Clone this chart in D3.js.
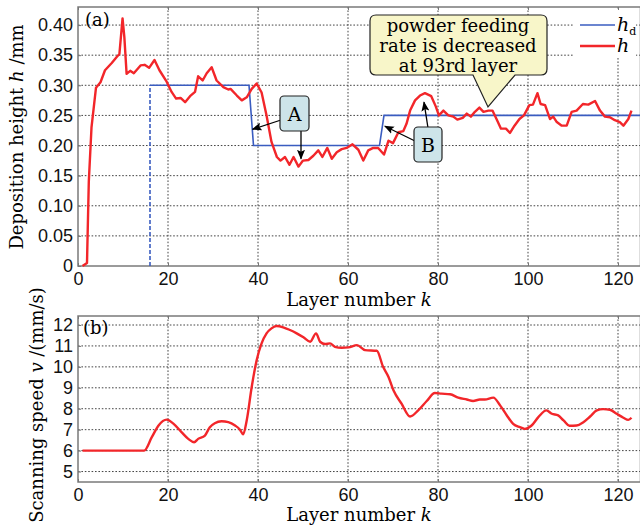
<!DOCTYPE html>
<html>
<head>
<meta charset="utf-8">
<script src="https://cdn.jsdelivr.net/npm/d3@7"></script>
<style>
  body { margin: 0; background: #fff; }
  svg { display: block; font-family: "DejaVu Serif", "Liberation Serif", serif; }
  .grid line { stroke: #444; stroke-width: 1; stroke-dasharray: 1.6,1.8; }
  .axis text { font-size: 18px; fill: #111; }
  .axis line { stroke: #777; }
</style>
</head>
<body>
<script>
(function (){

    //layer numbers and deposition height h (mm)
    var hK = [1, 2, 2.4, 3, 4, 5, 6, 7.5, 8.6, 9.2, 9.9, 10.3, 10.8, 11.6, 12.4, 13.9, 14.8, 15.8, 17, 18.1,
        19.7, 20.8, 21.8, 22.8, 23.8, 24.9, 26, 26.7, 27.7, 28.6, 29.7, 30.8, 32.3, 33.4, 33.9, 35.3, 36.4, 37.5, 38.6, 39.7,
        40.8, 41.9, 43, 44.2, 45, 46, 47, 47.9, 49, 50, 51.2, 52.3, 53.4, 54.3, 55.4, 56.4, 57.5, 58.6, 59.7, 61,
        62.3, 63.4, 64.5, 65.6, 66.7, 68, 69, 70, 71.2, 72.3, 73, 73.8, 74.9, 76, 77.1, 78.5, 79.5, 80.2, 81.2, 82.3,
        83.4, 84.3, 85.5, 86.4, 87.3, 88.2, 89.2, 90.1, 91.2, 92.1, 93, 94, 95.1, 96, 97, 98.1, 99.1, 100.3, 101.1, 102.1,
        102.8, 103.8, 104.9, 105.6, 106.4, 107.5, 108.6, 109.7, 110.8, 112.2, 113.4, 114.9, 116, 117.1, 118.2, 119.3, 120.4, 121.2, 122.3, 123];
    var hVal = [0, 0.005, 0.14, 0.23, 0.296, 0.305, 0.325, 0.337, 0.347, 0.352, 0.411, 0.38, 0.319, 0.324, 0.32, 0.333, 0.334, 0.329, 0.342, 0.325,
        0.306, 0.289, 0.278, 0.279, 0.272, 0.282, 0.289, 0.315, 0.308, 0.32, 0.33, 0.308, 0.297, 0.293, 0.294, 0.283, 0.275, 0.28, 0.294, 0.303,
        0.288, 0.25, 0.206, 0.181, 0.175, 0.181, 0.168, 0.181, 0.165, 0.175, 0.176, 0.183, 0.192, 0.181, 0.196, 0.178, 0.189, 0.194, 0.196, 0.202,
        0.193, 0.175, 0.192, 0.196, 0.196, 0.185, 0.208, 0.204, 0.222, 0.224, 0.236, 0.258, 0.275, 0.283, 0.287, 0.282, 0.265, 0.25, 0.258, 0.25,
        0.248, 0.243, 0.246, 0.253, 0.248, 0.256, 0.263, 0.256, 0.258, 0.258, 0.244, 0.228, 0.228, 0.221, 0.233, 0.244, 0.25, 0.267, 0.268, 0.287,
        0.269, 0.267, 0.244, 0.248, 0.239, 0.233, 0.233, 0.256, 0.258, 0.269, 0.268, 0.274, 0.258, 0.248, 0.247, 0.242, 0.239, 0.233, 0.244, 0.258];

    //desired height h_d (mm)
    var hdK = [16, 38, 39, 67, 68, 126];
    var hdVal = [0.30, 0.30, 0.20, 0.20, 0.25, 0.25];
    var hdStartK = [16, 16];
    var hdStartVal = [0, 0.30];

    //scanning speed v (mm/s)
    var vK = [1, 14.7, 16.4, 17.9, 19.7, 21.2, 23, 24.5, 25.8, 26.7, 28.2, 29.3, 30.4, 31.9, 33.4, 34.9, 36, 36.7, 37.5, 38.6,
        39.7, 40.8, 41.9, 43, 44.1, 45.6, 47.1, 48.6, 50.1, 51.6, 52.9, 53.8, 54.9, 56, 57.1, 58.6, 60.1, 62, 63.8, 66.4,
        67.8, 69, 70.1, 71.9, 73.8, 75.6, 77.5, 79.3, 80.8, 82.7, 84.5, 86.4, 87.8, 89.3, 90.4, 92.3, 93.8, 95.3, 96.7, 98.2,
        99.3, 100.8, 102.3, 104.1, 105.3, 106.7, 107.9, 109.2, 110.8, 112.3, 113.8, 115.3, 116.7, 118.2, 119.7, 121.2, 122.3, 123];
    var vVal = [6, 6, 6.64, 7.2, 7.48, 7.29, 6.88, 6.56, 6.4, 6.56, 6.72, 7.12, 7.31, 7.4, 7.36, 7.2, 7, 6.78, 7.45, 9.04,
        10.32, 11.12, 11.6, 11.84, 11.95, 11.89, 11.76, 11.6, 11.41, 11.2, 11.6, 11.2, 11.09, 11.12, 10.96, 10.91, 10.93, 11.04, 10.8, 10.77,
        10, 9.52, 8.88, 8.24, 7.63, 7.92, 8.37, 8.75, 8.72, 8.69, 8.53, 8.44, 8.37, 8.44, 8.44, 8.53, 8.16, 7.68, 7.28, 7.12,
        7.04, 7.2, 7.6, 7.92, 7.76, 7.68, 7.44, 7.19, 7.2, 7.36, 7.63, 7.92, 7.98, 7.95, 7.76, 7.57, 7.47, 7.57];

    //tick labels
    var kTicks = [0, 20, 40, 60, 80, 100, 120];
    var hTicks = [0, 0.05, 0.10, 0.15, 0.20, 0.25, 0.30, 0.35, 0.40];
    var vTicks = [5, 6, 7, 8, 9, 10, 11, 12];

    var width = 640, height = 531;
    var redColor = "#f2262a", blueColor = "#3a5cc0";

    var svg = d3.select("body").append("svg")
        .attr("width", width)
        .attr("height", height);

    var defs = svg.append("defs");
    defs.append("marker")
        .attr("id", "arrow")
        .attr("viewBox", "0 0 10 10")
        .attr("refX", 9).attr("refY", 5)
        .attr("markerWidth", 10).attr("markerHeight", 10)
        .attr("markerUnits", "userSpaceOnUse")
        .attr("orient", "auto")
        .append("path")
        .attr("d", "M0,1 L10,5 L0,9 L2,5 Z")
        .attr("fill", "#000");

    //shared x scale
    var x = d3.scaleLinear().domain([0, 125]).range([78, 640.5]);

    //panel (a)
    var yA = d3.scaleLinear().domain([0, 0.43]).range([266, 7]);
    //panel (b)
    var yB = d3.scaleLinear().domain([4.5, 12.43]).range([482, 316]);

    function drawPanel(y, yTickVals, fmt, top, bottom){
        var g = svg.append("g");

        //grid
        var grid = g.append("g").attr("class", "grid");
        grid.selectAll(".gx")
            .data(kTicks.filter(function(d){ return d > 0; }))
            .enter().append("line")
            .attr("x1", function(d){ return x(d); })
            .attr("x2", function(d){ return x(d); })
            .attr("y1", top).attr("y2", bottom);
        grid.selectAll(".gy")
            .data(yTickVals.filter(function(d){ return y(d) < bottom - 2 && y(d) > top + 2; }))
            .enter().append("line")
            .attr("x1", x(0)).attr("x2", width)
            .attr("y1", function(d){ return y(d); })
            .attr("y2", function(d){ return y(d); });

        //frame
        g.append("rect")
            .attr("x", x(0)).attr("y", top)
            .attr("width", x.range()[1] - x(0))
            .attr("height", bottom - top)
            .attr("fill", "none")
            .attr("stroke", "#7a7a7a")
            .attr("stroke-width", 1.5);

        //axes with inward ticks
        g.append("g")
            .attr("class", "axis")
            .attr("transform", "translate(0," + bottom + ")")
            .call(d3.axisBottom(x).tickValues(kTicks).tickSizeInner(-3).tickSizeOuter(0).tickPadding(6))
            .call(function(s){ s.select(".domain").remove(); });
        g.append("g")
            .attr("class", "axis")
            .attr("transform", "translate(" + x(0) + ",0)")
            .call(d3.axisLeft(y).tickValues(yTickVals).tickFormat(fmt).tickSizeInner(-3).tickSizeOuter(0).tickPadding(5))
            .call(function(s){ s.select(".domain").remove(); });
        g.append("g")
            .attr("class", "axis")
            .attr("transform", "translate(0," + top + ")")
            .call(d3.axisTop(x).tickValues(kTicks).tickSizeInner(-3).tickSizeOuter(0).tickFormat(""))
            .call(function(s){ s.select(".domain").remove(); });
        return g;
    }

    var gA = drawPanel(yA, hTicks, function(d){ return d === 0 ? "0" : d3.format(".2f")(d); }, 7, 266);
    var gB = drawPanel(yB, vTicks, d3.format("d"), 316, 482);

    //lines panel (a)
    var lineA = d3.line()
        .x(function(d){ return x(d[0]); })
        .y(function(d){ return yA(d[1]); });

    gA.append("path")
        .datum(d3.zip(hdStartK, hdStartVal))
        .attr("d", lineA)
        .attr("fill", "none")
        .attr("stroke", blueColor)
        .attr("stroke-width", 1.6)
        .attr("stroke-dasharray", "4,2");
    gA.append("path")
        .datum(d3.zip(hdK, hdVal))
        .attr("d", lineA)
        .attr("fill", "none")
        .attr("stroke", blueColor)
        .attr("stroke-width", 1.6);
    gA.append("path")
        .datum(d3.zip(hK, hVal))
        .attr("d", lineA)
        .attr("fill", "none")
        .attr("stroke", redColor)
        .attr("stroke-width", 2.4)
        .attr("stroke-linejoin", "round");

    //lines panel (b)
    var lineB = d3.line()
        .x(function(d){ return x(d[0]); })
        .y(function(d){ return yB(d[1]); })
        .curve(d3.curveMonotoneX);
    gB.append("path")
        .datum(d3.zip(vK, vVal))
        .attr("d", lineB)
        .attr("fill", "none")
        .attr("stroke", redColor)
        .attr("stroke-width", 2.4);

    //panel tags
    svg.append("text").attr("x", 85).attr("y", 26).style("font-size", "18px").text("(a)");
    svg.append("text").attr("x", 83).attr("y", 334).style("font-size", "18px").text("(b)");

    //axis titles
    function xTitle(yPos){
        var t = svg.append("text")
            .attr("x", 359).attr("y", yPos)
            .attr("text-anchor", "middle")
            .style("font-size", "18px");
        t.append("tspan").text("Layer number ");
        t.append("tspan").style("font-style", "italic").text("k");
    }
    xTitle(306);
    xTitle(521);

    var ta = svg.append("text")
        .attr("transform", "translate(23,137) rotate(-90)")
        .attr("text-anchor", "middle")
        .style("font-size", "18px");
    ta.append("tspan").text("Deposition height ");
    ta.append("tspan").style("font-style", "italic").text("h");
    ta.append("tspan").text(" /mm");

    var tb = svg.append("text")
        .attr("transform", "translate(43,405) rotate(-90)")
        .attr("text-anchor", "middle")
        .style("font-size", "18px");
    tb.append("tspan").text("Scanning speed ");
    tb.append("tspan").style("font-style", "italic").text("v");
    tb.append("tspan").text(" /(mm/s)");

    //legend
    svg.append("rect")
        .attr("x", 574).attr("y", 10).attr("width", 62).attr("height", 48)
        .attr("fill", "#fff");
    svg.append("line").attr("x1", 580).attr("x2", 615).attr("y1", 25).attr("y2", 25)
        .attr("stroke", blueColor).attr("stroke-width", 1.6);
    svg.append("line").attr("x1", 580).attr("x2", 615).attr("y1", 46).attr("y2", 46)
        .attr("stroke", redColor).attr("stroke-width", 2.4);
    var l1 = svg.append("text").attr("x", 617).attr("y", 31).style("font-size", "19px");
    l1.append("tspan").style("font-style", "italic").text("h");
    l1.append("tspan").attr("dy", 4).style("font-size", "11px").text("d");
    svg.append("text").attr("x", 617).attr("y", 52).style("font-size", "19px")
        .style("font-style", "italic").text("h");

    //callout: powder feeding
    var co = svg.append("g");
    co.append("path")
        .attr("d", "M376,15 H541 Q547,15 547,21 V69 Q547,75 541,75 H515 L488,107 L473,75 H376 Q370,75 370,69 V21 Q370,15 376,15 Z")
        .attr("fill", "#f8f6c9")
        .attr("stroke", "#222")
        .attr("stroke-width", 1.2);
    ["powder feeding", "rate is decreased", "at 93rd layer"].forEach(function(s, i){
        co.append("text")
            .attr("x", 458).attr("y", 32 + i * 20)
            .attr("text-anchor", "middle")
            .style("font-size", "18px")
            .text(s);
    });

    //callouts A and B
    function tagBox(x0, y0, w, h, label){
        svg.append("rect")
            .attr("x", x0).attr("y", y0).attr("width", w).attr("height", h)
            .attr("rx", 4).attr("ry", 4)
            .attr("fill", "#cde4e9")
            .attr("stroke", "#222")
            .attr("stroke-width", 1.2);
        svg.append("text")
            .attr("x", x0 + w / 2).attr("y", y0 + h / 2 + 7)
            .attr("text-anchor", "middle")
            .style("font-size", "19px")
            .text(label);
    }
    function arrow(x1, y1, x2, y2){
        svg.append("line")
            .attr("x1", x1).attr("y1", y1).attr("x2", x2).attr("y2", y2)
            .attr("stroke", "#000").attr("stroke-width", 1.3)
            .attr("marker-end", "url(#arrow)");
    }
    arrow(281, 120, x(38.8), yA(0.227));
    arrow(301, 131, 301, yA(0.178));
    tagBox(280, 96, 29, 35, "A");

    arrow(415, 141, x(68.2), yA(0.232));
    arrow(428, 128, 424, yA(0.272));
    tagBox(414, 127, 28, 35, "B");

})();
</script>
</body>
</html>
